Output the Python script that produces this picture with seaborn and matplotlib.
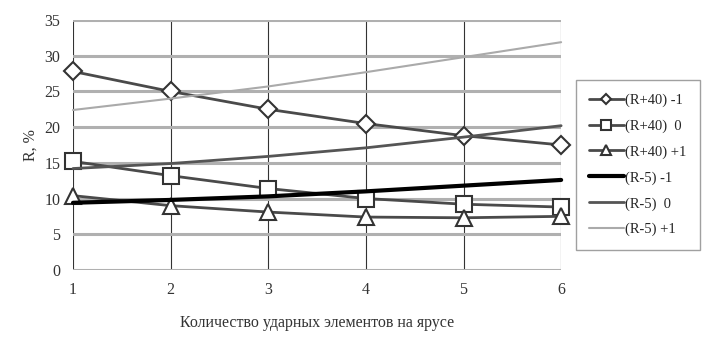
import matplotlib
matplotlib.use("Agg")
import matplotlib.pyplot as plt
import seaborn as sns
import pandas as pd

# number of impact elements per tier
elements = [1, 2, 3, 4, 5, 6]

r40_m1 = [27.8, 25.0, 22.5, 20.5, 18.8, 17.5]
r40_0 = [15.2, 13.2, 11.4, 10.0, 9.2, 8.8]
r40_p1 = [10.4, 9.0, 8.1, 7.4, 7.3, 7.5]
r5_m1 = [9.4, 9.8, 10.3, 11.0, 11.8, 12.6]
r5_0 = [14.2, 14.9, 15.9, 17.1, 18.6, 20.2]
r5_p1 = [22.4, 24.0, 25.7, 27.7, 29.8, 31.9]

labels = ["(R+40) -1", "(R+40)  0", "(R+40) +1", "(R-5) -1", "(R-5)  0", "(R-5) +1"]
series = [r40_m1, r40_0, r40_p1, r5_m1, r5_0, r5_p1]

styles = [
    dict(color="#4a4a4a", lw=2.0, marker="D", ms=9),
    dict(color="#4a4a4a", lw=2.0, marker="s", ms=11),
    dict(color="#4a4a4a", lw=2.0, marker="^", ms=11),
    dict(color="#000000", lw=3.0, marker=None, ms=0),
    dict(color="#555555", lw=2.0, marker=None, ms=0),
    dict(color="#aaaaaa", lw=1.5, marker=None, ms=0),
]

sns.set_style("white")
plt.rcParams["font.family"] = ["Liberation Serif", "DejaVu Serif"]

fig = plt.figure(figsize=(7.13, 3.46), dpi=100)
ax = fig.add_axes([0.1024, 0.22, 0.6846, 0.722])

for lab, vals, st in zip(labels, series, styles):
    df = pd.DataFrame({"x": elements, "y": vals})
    sns.lineplot(data=df, x="x", y="y", ax=ax, color=st["color"], lw=st["lw"],
                 marker=st["marker"], markersize=st["ms"], markerfacecolor="white",
                 markeredgecolor="#333333", markeredgewidth=1.5, label=lab,
                 clip_on=False, zorder=3)

ax.set_xlim(1, 6)
ax.set_ylim(0, 35)
ax.set_xticks(elements)
ax.set_yticks(range(0, 36, 5))
ax.yaxis.grid(True, color="#b0b0b0", lw=2.2)
ax.xaxis.grid(True, color="#333333", lw=0.8)
ax.set_axisbelow(True)
for s in ax.spines.values():
    s.set_visible(False)
ax.tick_params(axis="both", labelsize=11.5, colors="#333333", length=0, pad=9)
ax.set_xlabel("Количество ударных элементов на ярусе", fontsize=11.5, color="#333333", labelpad=12)
ax.set_ylabel("R, %", fontsize=11.5, color="#333333", labelpad=4)

leg = ax.legend(loc="center left", bbox_to_anchor=(1.03, 0.42), fontsize=10.5,
                frameon=True, fancybox=False, handlelength=2.4, handletextpad=0.1,
                labelspacing=0.85, borderpad=0.9, borderaxespad=0, markerscale=0.6)
leg.get_frame().set_edgecolor("#888888")
leg.get_frame().set_linewidth(1.0)

fig.savefig("out.png", dpi=100)
